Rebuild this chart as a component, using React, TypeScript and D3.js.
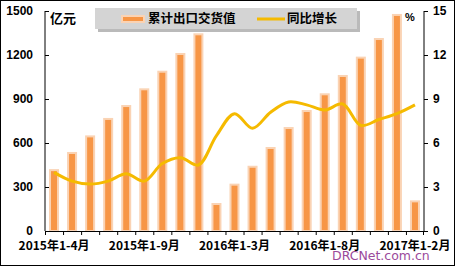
import React from "react";
import * as d3 from "d3";

const categories = [
  "2015年1-4月","2015年1-5月","2015年1-6月","2015年1-7月","2015年1-8月","2015年1-9月","2015年1-10月","2015年1-11月","2015年1-12月",
  "2016年1-2月","2016年1-3月","2016年1-4月","2016年1-5月","2016年1-6月","2016年1-7月","2016年1-8月","2016年1-9月","2016年1-10月","2016年1-11月","2016年1-12月",
  "2017年1-2月",
];
const exportValue = [415, 532, 645, 764, 852, 966, 1086, 1207, 1341, 184, 316, 438, 566, 702, 818, 932, 1057, 1182, 1309, 1473, 202];
const growth = [4.0, 3.4, 3.2, 3.4, 3.9, 3.4, 4.6, 5.0, 4.5, 6.5, 8.0, 7.0, 8.1, 8.8, 8.6, 8.25, 8.66, 7.2, 7.6, 8.0, 8.6];
const leftTicks = [0, 300, 600, 900, 1200, 1500];
const rightTicks = [0, 3, 6, 9, 12, 15];
const labelIdx = [0, 5, 10, 15, 20];
const seriesNames = ["累计出口交货值", "同比增长"];

export default function App() {
  const W = 455, H = 266;
  const x0 = 45, x1 = 424, yTop = 11, yBot = 231;
  const x = d3.scaleBand().domain(categories).range([x0, x1]).padding(0);
  const yL = d3.scaleLinear().domain([0, 1500]).range([yBot, yTop]);
  const yR = d3.scaleLinear().domain([0, 15]).range([yBot, yTop]);
  const cx = (c: string) => (x(c) as number) + x.bandwidth() / 2;
  const line = d3
    .line<number>()
    .x((_, i) => cx(categories[i]))
    .y((d) => yR(d))
    .curve(d3.curveCatmullRom.alpha(0.5));
  const num = "'Liberation Sans', Arial, sans-serif";
  const cjk = "'Noto Sans CJK SC', 'Liberation Sans', sans-serif";
  const orange = "#F79646";
  const peach = "#FAD3B4";
  const gold = "#F5BA00";
  return (
    <svg width={W} height={H} style={{ position: "absolute", left: 0, top: 0, background: "#fff" }}>
      <rect x={0.5} y={0.5} width={W - 1} height={H - 1} fill="#fff" stroke="#000" />
      {/* bars */}
      {exportValue.map((v, i) => {
        const c = cx(categories[i]);
        return (
          <rect key={i} x={c - 4} y={yL(v)} width={8} height={yBot - yL(v)} fill={orange} stroke={peach} strokeWidth={2} />
        );
      })}
      {/* line */}
      <path d={line(growth) || ""} fill="none" stroke={gold} strokeWidth={3} />
      {/* axes */}
      <line x1={x0} x2={x0} y1={yTop} y2={yBot} stroke="#000" />
      <line x1={x1} x2={x1} y1={yTop} y2={yBot} stroke="#000" />
      <line x1={x0} x2={x1} y1={yBot + 0.5} y2={yBot + 0.5} stroke="#000" />
      {leftTicks.map((t) => (
        <g key={"l" + t}>
          <line x1={x0} x2={x0 + 4} y1={yL(t) + 0.5} y2={yL(t) + 0.5} stroke="#000" />
          <text x={33} y={yL(t)} dy="0.35em" textAnchor="end" fontFamily={num} fontWeight="bold" fontSize={12}>
            {t}
          </text>
        </g>
      ))}
      {rightTicks.map((t) => (
        <g key={"r" + t}>
          <line x1={x1} x2={x1 + 4} y1={yR(t) + 0.5} y2={yR(t) + 0.5} stroke="#000" />
          <text x={433} y={yR(t)} dy="0.35em" textAnchor="start" fontFamily={num} fontWeight="bold" fontSize={12}>
            {t}
          </text>
        </g>
      ))}
      {categories.map((c, i) => (
        <line key={"t" + i} x1={(x(c) as number) + 0.5} x2={(x(c) as number) + 0.5} y1={yBot} y2={yBot + 4} stroke="#000" />
      ))}
      <line x1={x1 - 0.5} x2={x1 - 0.5} y1={yBot} y2={yBot + 4} stroke="#000" />
      {labelIdx.map((i) => (
        <text key={"x" + i} x={cx(categories[i])} y={246} dy="0.35em" textAnchor="middle" fontFamily={cjk} fontWeight="bold" fontSize={12}>
          {categories[i]}
        </text>
      ))}
      <text x={50} y={18} dy="0.35em" fontFamily={cjk} fontWeight="bold" fontSize={13}>亿元</text>
      <text x={405} y={17} dy="0.35em" fontFamily={num} fontWeight="bold" fontSize={11}>%</text>
      {/* legend */}
      <rect x={98} y={11} width={262} height={21} fill="#8c8c8c" opacity={0.6} />
      <rect x={95} y={8} width={262} height={21} fill="#D4D4D4" />
      <rect x={122} y={16} width={22} height={6} fill={orange} stroke={peach} strokeWidth={2} />
      <text x={148} y={19} dy="0.35em" fontFamily={cjk} fontWeight="bold" fontSize={12.5}>{seriesNames[0]}</text>
      <line x1={257} x2={285} y1={19} y2={19} stroke={gold} strokeWidth={3} />
      <text x={287} y={19} dy="0.35em" fontFamily={cjk} fontWeight="bold" fontSize={12.5}>{seriesNames[1]}</text>
      {/* watermark */}
      <text x={332} y={256} dy="0.35em" fontFamily="'DejaVu Sans', sans-serif" fontSize={12.5} fill="#9B4A9B">DRCNet.com.cn</text>
    </svg>
  );
}
